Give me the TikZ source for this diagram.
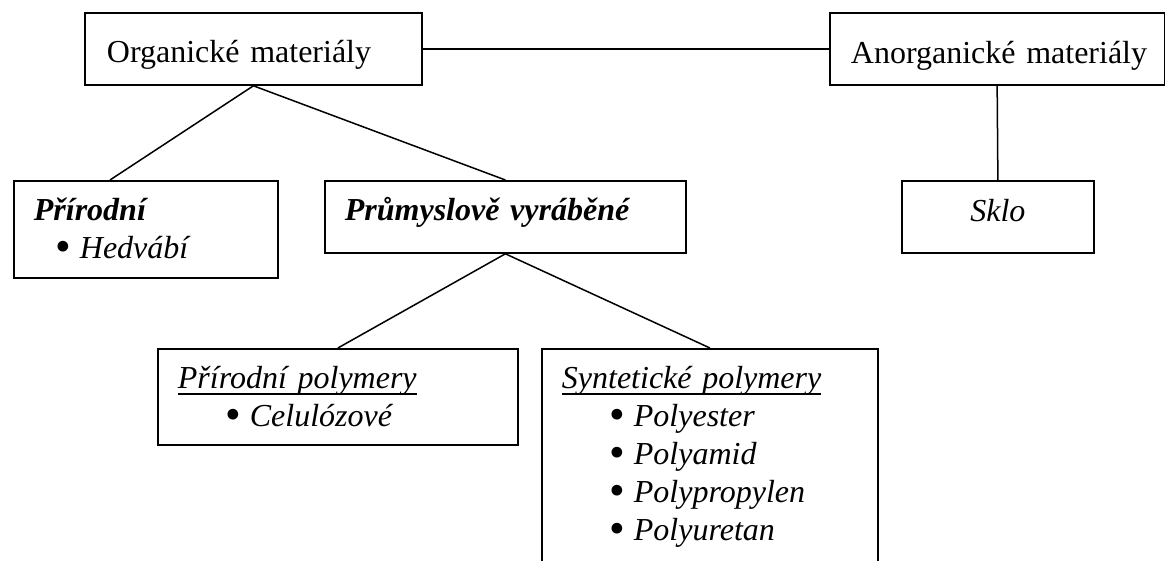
\documentclass[tikz,border=0pt]{standalone}
\usepackage{fontspec}
\setmainfont{Liberation Serif}
\newcommand\wordline[1]{{\setbox0\hbox{#1}\rlap{\rule[-5.8pt]{\wd0}{1.5pt}}\box0}}
\newcommand\bulitem[2]{\hspace*{#1}\makebox[0pt]{\smash{\raisebox{-3pt}{\scalebox{1.4}{•}}}}\hspace*{17pt}#2}
\begin{document}
\begin{tikzpicture}[x=1pt, y=-1pt,
        box/.style={rectangle, draw=black, line width=1.8pt, anchor=north west, inner ysep=0pt, inner xsep=20pt, align=left, font=\fontsize{32}{38}\selectfont, text height=40pt},
        link/.style={line width=1.5pt}
    ]
    \path[use as bounding box] (0,0) rectangle (1165,561);
    \clip (0,0) rectangle (1165,561);
    \node[box, inner xsep=22pt, text width=293pt, text height=50pt, text depth=22pt] (org) at (84,12) {\mbox{Organické materiály}};
    \node[box, inner xsep=21pt, text width=292.5pt, text height=51pt, text depth=21pt] (anorg) at (829,12) {\mbox{Anorganické materiály}};
    \node[box, text width=224pt, text depth=57pt] (prir) at (13,180) {\textbf{\textit{Přírodní}}\\
        \bulitem{29pt}{\textit{Hedvábí}}};
    \node[box, text width=321pt, text depth=32pt] (prum) at (324,180) {\textbf{\textit{Průmyslově vyráběné}}};
    \node[box, inner xsep=0pt, text width=192pt, align=center, text height=41pt, text depth=31pt] (sklo) at (901,180) {\textit{Sklo}};
    \node[box, text width=320pt, text depth=56pt] (ppol) at (157,348) {\wordline{\textit{Přírodní polymery}}\\
        \bulitem{55pt}{\textit{Celulózové}}};
    \node[box, text width=296pt, text depth=240pt] (spol) at (541,348) {\wordline{\textit{Syntetické polymery}}\\
        \bulitem{55pt}{\textit{Polyester}}\\
        \bulitem{55pt}{\textit{Polyamid}}\\
        \bulitem{55pt}{\textit{Polypropylen}}\\
        \bulitem{55pt}{\textit{Polyuretan}}};
    \draw[link] (org.east) -- (anorg.west);
    \draw[link] (org.south) -- ([xshift=97pt]prir.north west);
    \draw[link] (org.south) -- (prum.north);
    \draw[link] (anorg.south) -- (sklo.north);
    \draw[link] (prum.south) -- (ppol.north);
    \draw[link] (prum.south) -- (spol.north);
\end{tikzpicture}
\end{document}
